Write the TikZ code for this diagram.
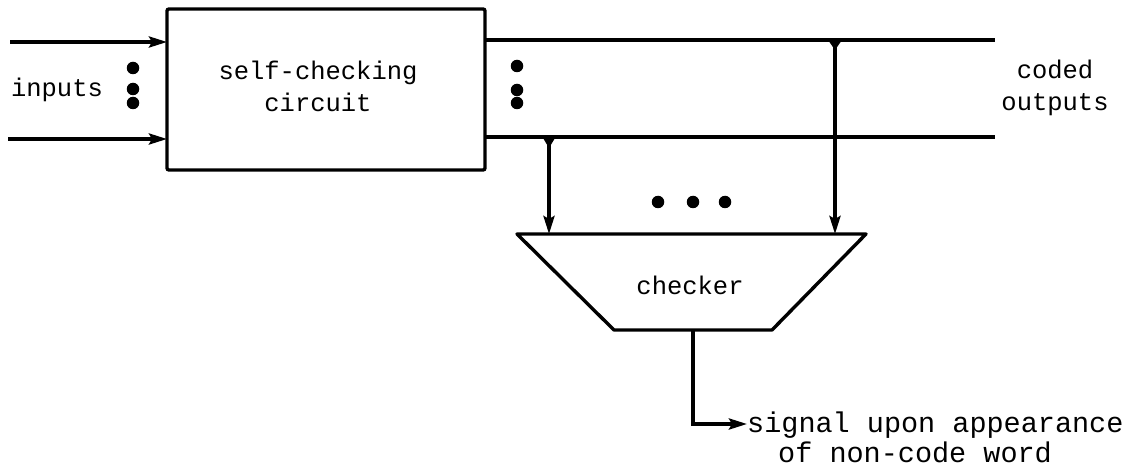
\documentclass[tikz,border=0pt]{standalone}
\usepackage{fontspec}
\setmonofont{Liberation Mono}
\usetikzlibrary{arrows.meta}
\begin{document}
\begin{tikzpicture}[x=1pt,y=-1pt,
  wire/.style={line width=3.4pt},
  sig/.style={wire,-{Stealth[length=18pt,width=11pt,inset=3pt]}},
  lbl/.style={font=\ttfamily\fontsize{25.5}{32}\selectfont,align=center,inner sep=0pt},
  biglbl/.style={lbl,font=\ttfamily\fontsize{28.5}{30}\selectfont,align=left},
  blob/.style={circle,fill=black,inner sep=0pt,minimum size=12.5pt},
  tick/.style={fill=black}]
\useasboundingbox (0,0) rectangle (1131,470);

% self-checking circuit block
\draw[wire,rounded corners=2pt] (167,9) rectangle (485,170);
\node[lbl] (scc) at (318,86) {self-checking\\circuit};

% input lines
\coordinate (i1) at (10,42);
\coordinate (i2) at (8,139);
\draw[sig] (i1) -- (167,42);
\draw[sig] (i2) -- (167,139);
\node[lbl] (inp) at (57,90) {inputs};
\node[blob] (id1) at (133,68) {};
\node[blob] (id2) at (133,89) {};
\node[blob] (id3) at (133,103) {};

% coded output lines
\coordinate (o1a) at (486,40);
\coordinate (o1b) at (995,40);
\coordinate (o2a) at (486,137);
\coordinate (o2b) at (995,137);
\draw[wire] (o1a) -- (o1b);
\draw[wire] (o2a) -- (o2b);
\node[blob] (od1) at (517,66) {};
\node[blob] (od2) at (517,90) {};
\node[blob] (od3) at (517,103) {};
\node[lbl] (cod) at (1055,88) {coded\\outputs};

% checker
\coordinate (t1) at (517,234);
\coordinate (t2) at (866,234);
\coordinate (t3) at (772,330);
\coordinate (t4) at (614,330);
\draw[wire,line join=round] (t1) -- (t2) -- (t3) -- (t4) -- cycle;
\node[lbl] (chk) at (690,285) {checker};

% taps to the checker
\coordinate (tapL) at (549,137);
\coordinate (tapR) at (835,40);
\draw[sig] (tapL) -- (549,234);
\draw[sig] (tapR) -- (835,234);
\fill[tick] (543,138) -- (555,138) -- (549,148) -- cycle;
\fill[tick] (828,40) -- (842,40) -- (835,50) -- cycle;
\node[blob] (cd1) at (658,202) {};
\node[blob] (cd2) at (693,202) {};
\node[blob] (cd3) at (725,202) {};

% error signal
\coordinate (eo) at (693,330);
\coordinate (ec) at (693,424);
\node[biglbl,anchor=west] (sg) at (747,437) {signal upon appearance\\\hspace*{31pt}of non-code word};
\draw[sig] (eo) -- (ec) -- (sg.west |- ec);
\end{tikzpicture}
\end{document}
